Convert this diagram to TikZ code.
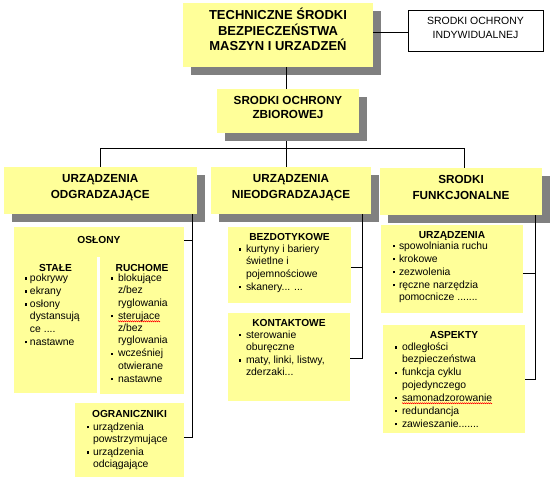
\documentclass[tikz,border=0pt]{standalone}
\usepackage{fontspec}
\setmainfont{Liberation Sans}
\usetikzlibrary{shadows,decorations.pathmorphing}
\definecolor{boxyellow}{HTML}{FFFF99}
\definecolor{shadowgray}{HTML}{808080}
\newsavebox\wavebox
\newlength\wavelen
\newcommand\redwave[1]{\sbox\wavebox{#1}\setlength\wavelen{\wd\wavebox}\rlap{\tikz[overlay,x=1pt,y=1pt]\draw[red,line width=0.5pt,decorate,decoration={zigzag,segment length=2pt,amplitude=0.6pt}] (0pt,-2.2pt) -- (\wavelen,-2.2pt);}\usebox\wavebox}
\newcommand\pbx[3]{\parbox[c][#2pt][t]{#1pt}{#3}}
\newlength\isep \setlength\isep{0.7pt}
\newcommand\itm[3]{\par\vspace{\isep}\hangindent=#2pt\hangafter=1\noindent\hspace*{#1pt}\makebox[\dimexpr#2pt-#1pt\relax][l]{\rule[1.8pt]{2.4pt}{2.4pt}}#3\par}
\newcommand\hd[2]{\centering\rule{0pt}{#1pt}\textbf{\fontsize{10.2}{12.3}\selectfont #2}\par\raggedright}
\newcommand\body{\fontsize{10.4}{12.3}\selectfont}
\tikzset{
 ybox/.style={fill=boxyellow, inner sep=0pt, outer sep=0pt, anchor=north west},
 shad/.style={general shadow={fill=shadowgray, shadow xshift=8pt, shadow yshift=-8pt}},
 wbox/.style={draw=black, line width=0.8pt, fill=white, inner sep=0pt, outer sep=0pt, anchor=north west},
 conn/.style={draw=black, line width=0.9pt},
}
\begin{document}
\begin{tikzpicture}[x=1pt,y=-1pt]
\fill[white] (0,0) rectangle (552,482);
\useasboundingbox (0,0) rectangle (552,482);
% junction coordinates
\coordinate (j) at (286,148);
\coordinate (jl) at (100,148);
\coordinate (jr) at (464,148);

% top level
\node[ybox, shad] (top) at (183,3) {\pbx{190}{64}{\centering\bfseries\fontsize{13}{15.5}\selectfont\rule{0pt}{16.7pt}TECHNICZNE ŚRODKI\\ BEZPIECZEŃSTWA\\ MASZYN I URZADZEŃ}};
\node[wbox] (ind) at (408,10) {\pbx{135}{41}{\centering\fontsize{10.5}{13.3}\selectfont\rule{0pt}{14.8pt}SRODKI OCHRONY\\ INDYWIDUALNEJ}};

% connectors behind boxes
\draw[conn] ([yshift=-1.5pt]top.east |- ind.west) -- ([yshift=-1.5pt]ind.west);
\draw[conn] (top.south -| j) -- (j);
\draw[conn] (jl) -- (jr);

\node[ybox, shad] (zb) at (217,89) {\pbx{142}{44}{\centering\bfseries\fontsize{11.7}{14.3}\selectfont\rule{0pt}{15.2pt}SRODKI OCHRONY\\ ZBIOROWEJ}};

\node[ybox, shad] (b1) at (3.5,166.5) {\pbx{193.5}{47.5}{\centering\bfseries\fontsize{11.7}{16}\selectfont\rule{0pt}{15.7pt}URZĄDZENIA\\ ODGRADZAJĄCE}};
\node[ybox, shad] (b2) at (211,166.5) {\pbx{160}{47.5}{\centering\bfseries\fontsize{11.7}{16}\selectfont\rule{0pt}{15.7pt}URZĄDZENIA\\ NIEODGRADZAJĄCE}};
\node[ybox, shad] (b3) at (380,168) {\pbx{162}{47}{\centering\bfseries\fontsize{11.7}{16}\selectfont\rule{0pt}{15.1pt}SRODKI\\ FUNKCJONALNE}};

\draw[conn] (jl) -- (jl |- b1.north);
\draw[conn] (j) -- (j |- b2.north);
\draw[conn] (jr) -- (jr |- b3.north);

% lower boxes
\node[ybox] (osl) at (14,227) {\pbx{170}{30}{\body\hd{16.6}{OSŁONY}}};
\node[ybox] (stale) at (14,257) {\pbx{83}{136}{\body\hd{14.3}{STAŁE}\vspace{-2.8pt}
 \itm{11}{16}{pokrywy}
 \itm{11}{16}{ekrany}
 \itm{11}{16}{osłony\newline dystansują\newline ce ....}
 \itm{11}{16}{nastawne}}};
\node[ybox] (ruch) at (100,257) {\pbx{84}{137}{\body\hd{14.3}{RUCHOME}\vspace{-2.8pt}
 \itm{11}{18}{blokujące\newline z/bez\newline ryglowania}
 \itm{11}{18}{\redwave{sterujace}\newline z/bez\newline ryglowania}
 \itm{11}{18}{wcześniej\newline otwierane}
 \itm{11}{18}{nastawne}}};
\node[ybox] (ogr) at (75,403) {\pbx{109}{74}{\body\hd{14.6}{OGRANICZNIKI}\vspace{-0.5pt}
 \itm{12}{18}{urządzenia\newline powstrzymujące}
 \itm{12}{18}{urządzenia\newline odciągające}}};
\node[ybox] (bez) at (228,227) {\pbx{123}{76}{\body\hd{13.6}{BEZDOTYKOWE}\vspace{-1.15pt}
 \itm{11}{18}{kurtyny i bariery\newline świetlne i\newline pojemnościowe}
 \itm{11}{18}{skanery... ...}}};
\node[ybox] (kon) at (228,313) {\pbx{122}{88}{\body\hd{13.3}{KONTAKTOWE}\vspace{-1.15pt}
 \itm{11}{18}{sterowanie\newline oburęczne}
 \itm{11}{18}{maty, linki, listwy,\newline zderzaki...}}};
\node[ybox] (urz) at (381,225) {\pbx{142}{88}{\body\hd{13.6}{URZĄDZENIA}\vspace{-2.4pt}
 \itm{12}{18}{spowolniania ruchu}
 \itm{12}{18}{krokowe}
 \itm{12}{18}{zezwolenia}
 \itm{12}{18}{ręczne narzędzia\newline pomocnicze .......}}};
\node[ybox] (asp) at (383,325) {\pbx{142}{108}{\body\hd{13.6}{ASPEKTY}\vspace{-1.15pt}
 \itm{12}{19}{odległości\newline bezpieczeństwa}
 \itm{12}{19}{funkcja cyklu\newline pojedynczego}
 \itm{12}{19}{\redwave{samonadzorowanie}}
 \itm{12}{19}{redundancja}
 \itm{12}{19}{zawieszanie.......}}};

% side connectors
\coordinate (v1) at ([xshift=-5pt]b1.south east);
\coordinate (v2) at ([xshift=-9pt]b2.south east);
\coordinate (v3) at ([xshift=-7pt]b3.south east);
\draw[conn] (v1) |- ([yshift=3pt]ogr.east);
\draw[conn] ([yshift=2pt]osl.east) -- ([yshift=2pt]osl.east -| v1);
\draw[conn] (v2) |- ([yshift=-1pt]kon.east);
\draw[conn] ([yshift=-2pt]bez.east) -- ([yshift=-2pt]bez.east -| v2);
\draw[conn] (v3) |- (asp.east);
\draw[conn] ([yshift=-4pt]urz.east) -- ([yshift=-4pt]urz.east -| v3);
\end{tikzpicture}
\end{document}
